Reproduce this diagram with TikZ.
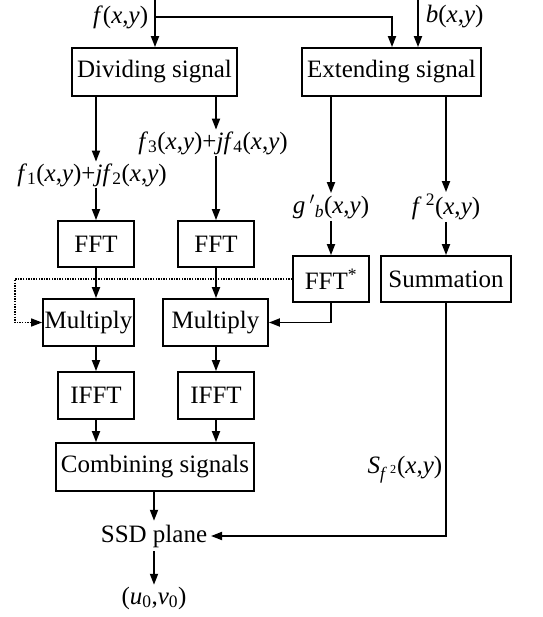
\documentclass[tikz,border=0pt]{standalone}
\usepackage{fontspec}
\setmainfont{Liberation Serif}
\usetikzlibrary{arrows.meta,calc}
\newcommand{\vi}[1]{\textit{#1}}
\newcommand{\xy}{(\vi{x},\vi{y})}
\begin{document}
\begin{tikzpicture}[x=1pt,y=-1pt,
  font=\fontsize{25}{30}\selectfont,
  line width=1.8pt,
  arr/.style={-{Triangle[length=11pt,width=8pt]}},
  box/.style={draw,rectangle,inner sep=0pt,minimum height=47pt},
  lab/.style={inner sep=1pt},
  dotline/.style={line width=1.4pt,dash pattern=on 1.4pt off 1.2pt}]
\useasboundingbox (0,0) rectangle (542,617);
% input coordinates
\coordinate (ftop) at (155,0);
\coordinate (fj) at (155,17);
\coordinate (ein) at (392,17);
\coordinate (btop) at (418,0);
\coordinate (dl) at (15,279);
% labels
\node[lab,anchor=east] (flab) at (150,17) {\vi{f}\xy};
\node[lab,anchor=west] (blab) at (424,17) {\vi{b}\xy};
% boxes
\node[box,minimum width=165pt,minimum height=48pt] (div) at (154.5,72) {Dividing signal};
\node[box,minimum width=179pt,minimum height=48pt] (ext) at (391.5,72) {Extending signal};
\node[lab] (f3) at (213,143) {\vi{f}\textsubscript{3}\xy+\vi{jf}\textsubscript{4}\xy};
\node[lab] (f1) at (92,175) {\vi{f}\textsubscript{1}\xy+\vi{jf}\textsubscript{2}\xy};
\node[lab] (g) at (331,207) {\vi{g}\,$'$\textsubscript{\vi{b}}\xy};
\node[lab] (f2) at (446,207) {\vi{f}\,\textsuperscript{2}\xy};
\node[box,minimum width=76pt,minimum height=46pt] (fft1) at (96,244) {FFT};
\node[box,minimum width=76pt,minimum height=46pt] (fft2) at (216,244) {FFT};
\node[box,minimum width=76pt,minimum height=46pt] (fftc) at (331,279) {FFT\textsuperscript{*}};
\node[box,minimum width=130pt,minimum height=46pt] (sum) at (446,279) {Summation};
\node[box,minimum width=91pt] (mul1) at (88.5,322.5) {Multiply};
\node[box,minimum width=105pt] (mul2) at (215.5,322.5) {Multiply};
\node[box,minimum width=76pt] (ifft1) at (96,395.5) {IFFT};
\node[box,minimum width=76pt] (ifft2) at (216,395.5) {IFFT};
\node[box,minimum width=198pt,minimum height=48pt] (comb) at (155,467) {Combining signals};
\node[lab] (slab) at (405,470) {\vi{S}\textsubscript{\vi{f}\,\textsuperscript{2}}\xy};
\node[lab,inner sep=3pt] (ssd) at (154,536) {SSD plane};
\node[lab] (uv) at (154,598) {(\vi{u}\textsubscript{0},\vi{v}\textsubscript{0})};
% connectors
\draw[arr] (ftop) -- (div.north -| ftop);
\draw[arr] (fj) -- (ein) -- (ext.north -| ein);
\draw[arr] (btop) -- (ext.north -| btop);
\draw[arr] (div.south -| fft1) -- (fft1 |- f1.north);
\draw[arr] (div.south -| fft2) -- (fft2 |- f3.north);
\draw[arr] (f1.south -| fft1) -- (fft1.north);
\draw[arr] (f3.south -| fft2) -- (fft2.north);
\draw[arr] (ext.south -| g) -- (g.north);
\draw[arr] (ext.south -| f2) -- (f2.north);
\draw[arr] (g.south -| fftc) -- (fftc.north);
\draw[arr] (f2.south -| sum) -- (sum.north);
\draw[dotline,arr] (fftc.west) -- (dl) |- (mul1.west);
\draw[arr] (fft1.south) -- (mul1.north -| fft1);
\draw[arr] (fft2.south) -- (mul2.north -| fft2);
\draw[arr] (fftc.south) |- (mul2.east);
\draw[arr] (mul1.south -| ifft1) -- (ifft1.north);
\draw[arr] (mul2.south -| ifft2) -- (ifft2.north);
\draw[arr] (ifft1.south) -- (comb.north -| ifft1);
\draw[arr] (ifft2.south) -- (comb.north -| ifft2);
\draw[arr] (comb.south -| ssd) -- (ssd.north);
\draw[arr] (ssd.south) -- (uv.north);
\draw[arr] (sum.south) |- (ssd.east);
\end{tikzpicture}
\end{document}
